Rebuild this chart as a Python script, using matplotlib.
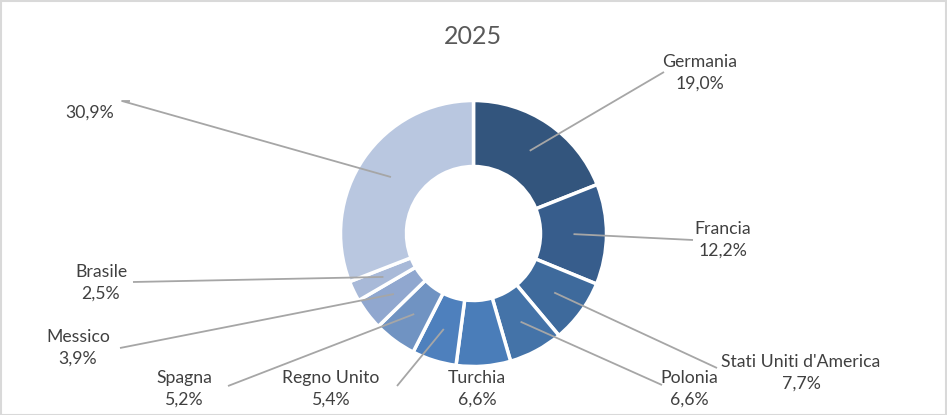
import matplotlib
matplotlib.use("Agg")
import matplotlib.pyplot as plt
import numpy as np

# data
paesi = ["Germania", "Francia", "Stati Uniti d'America", "Polonia", "Turchia",
         "Regno Unito", "Spagna", "Messico", "Brasile", ""]
quote = [19.0, 12.2, 7.7, 6.6, 6.6, 5.4, 5.2, 3.9, 2.5, 30.9]
colori = ["#33557D", "#375D8C", "#3E6A9C", "#4473A8", "#4A7DB9",
          "#4E80BD", "#7093C2", "#90A7CF", "#A8B9D8", "#B9C7E0"]

# layout (pixel coords, y from top): label centre, leader line end
pos_etichette = [(700, 73), (723, 240), (801, 373), (689, 389), (477, 389),
                 (331, 389), (184, 389), (78, 348), (101, 283), (90, 113)]
fine_linee = [(664, 72), (693, 240), (717, 368), (662, 385), None,
              (397, 386), (228, 386), (120, 348), (133, 282), (122, 101)]

W, H = 947, 415
cx, cy, R = 473.5, 233.5, 133

fig = plt.figure(figsize=(W / 100, H / 100), dpi=100)
ax = fig.add_axes([0, 0, 1, 1])

wedges, _ = ax.pie(quote, colors=colori, startangle=90, counterclock=False,
                   radius=R, center=(cx, H - cy), frame=True,
                   wedgeprops=dict(width=66, edgecolor="white", linewidth=2.5))
ax.set_xlim(0, W)
ax.set_ylim(0, H)
ax.set_aspect("equal")
ax.axis("off")

for w, nome, q, (lx, ly), fine in zip(wedges, paesi, quote, pos_etichette, fine_linee):
    testo = f"{q:.1f}%".replace(".", ",")
    if nome:
        testo = nome + "\n" + testo
    ax.text(lx, H - ly, testo, ha="center", va="center", fontsize=12.7,
            color="#404040", linespacing=1.45, family=["Lato", "DejaVu Sans"])
    if fine is not None:
        ang = np.deg2rad((w.theta1 + w.theta2) / 2)
        px = cx + 100 * np.cos(ang)
        py = (H - cy) + 100 * np.sin(ang)
        xs = [px, fine[0]]
        ys = [py, H - fine[1]]
        if not nome:
            xs.append(fine[0] + 8)
            ys.append(H - fine[1])
        ax.plot(xs, ys, color="#A6A6A6", lw=1.3, solid_capstyle="butt")

ax.text(W / 2 - 1, H - 37, "2025", ha="center", va="center", fontsize=18,
        color="#595959", family=["Lato", "DejaVu Sans"])

fig.patches.append(plt.Rectangle((0.5 / W, 0.5 / H), 1 - 1.5 / W, 1 - 1.5 / H,
                                 transform=fig.transFigure, fill=False,
                                 edgecolor="#D9D9D9", lw=1.5))

fig.savefig("out.png", dpi=100)
